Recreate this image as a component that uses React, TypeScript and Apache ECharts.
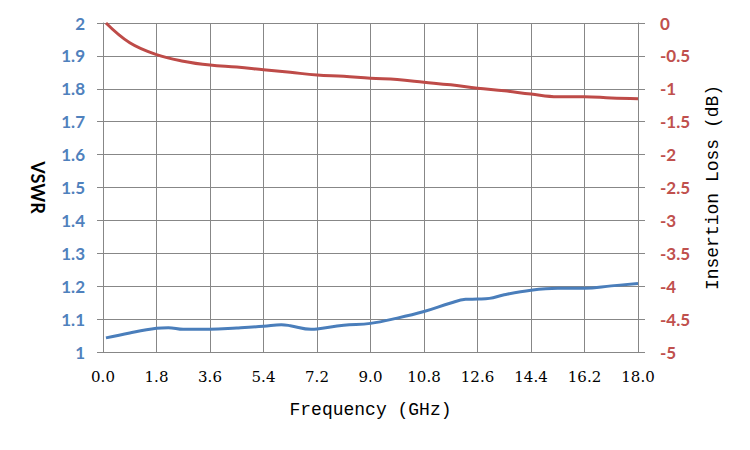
import React, { useEffect, useRef } from "react";
import * as echarts from "echarts";

const freqVswr = [0.1, 0.9, 1.8, 2.2, 2.7, 3.6, 4.5, 5.4, 6.0, 6.3, 7.0, 7.2, 8.1, 9.0, 9.9, 10.8, 11.7, 12.2, 12.6, 13.0, 13.5, 14.4, 15.3, 16.2, 17.1, 18.0];
const vswr = [1.043, 1.058, 1.072, 1.074, 1.069, 1.069, 1.073, 1.078, 1.083, 1.08, 1.069, 1.07, 1.081, 1.087, 1.103, 1.123, 1.149, 1.16, 1.161, 1.163, 1.174, 1.188, 1.194, 1.194, 1.201, 1.208];

const freqLoss = [0.1, 0.9, 1.8, 2.7, 3.6, 4.5, 5.4, 6.3, 7.2, 8.1, 9.0, 9.9, 10.8, 11.7, 12.6, 13.5, 14.4, 15.3, 16.2, 17.1, 18.0];
const loss = [0, -0.3, -0.48, -0.58, -0.64, -0.67, -0.71, -0.75, -0.79, -0.81, -0.84, -0.86, -0.9, -0.94, -0.99, -1.03, -1.08, -1.12, -1.12, -1.14, -1.15];

const xTitle = "Frequency (GHz)";
const leftTitle = "VSWR";
const rightTitle = "Insertion Loss (dB)";

const GRAY = "#878787";
const BLUE_TEXT = "#4f81bd";
const BLUE_LINE = "#4a7ebb";
const RED_TEXT = "#c0504d";
const RED_LINE = "#be4b48";
const SERIF = "DejaVu Serif";
const MONO = "Liberation Mono";

export default function App() {
  const ref = useRef<HTMLDivElement>(null);
  useEffect(() => {
    document.body.style.margin = "0";
    const chart = echarts.init(ref.current!, null, { renderer: "svg" });
    chart.setOption({
      animation: false,
      backgroundColor: "#ffffff",
      grid: { left: 103, right: 112, top: 23, bottom: 98, containLabel: false },
      xAxis: {
        type: "value",
        min: 0,
        max: 18,
        interval: 1.8,
        name: xTitle,
        nameLocation: "middle",
        nameGap: 49,
        nameTextStyle: { fontFamily: MONO, fontSize: 18, color: "#000" },
        axisLine: { show: true, lineStyle: { color: GRAY, width: 1 } },
        axisTick: { show: true, inside: false, length: 6, lineStyle: { color: GRAY } },
        axisLabel: {
          margin: 17,
          fontFamily: SERIF,
          fontSize: 15,
          color: "#000",
          formatter: (v: number) => v.toFixed(1),
        },
        splitLine: { show: true, lineStyle: { color: GRAY, width: 1 } },
      },
      yAxis: [
        {
          type: "value",
          position: "left",
          min: 1,
          max: 2,
          interval: 0.1,
          name: leftTitle,
          nameLocation: "middle",
          nameRotate: -90,
          nameGap: 56,
          nameTextStyle: { fontFamily: "Lato", fontWeight: "bold", fontSize: 18, color: "#000" },
          axisLine: { show: true, lineStyle: { color: GRAY, width: 1 } },
          axisTick: { show: true, inside: false, length: 6, lineStyle: { color: GRAY } },
          axisLabel: {
            margin: 18,
            fontFamily: "Lato",
            fontWeight: "bold",
            fontSize: 17,
            color: BLUE_TEXT,
            formatter: (v: number) => String(Math.round(v * 10) / 10),
          },
          splitLine: { show: true, lineStyle: { color: GRAY, width: 1 } },
        },
        {
          type: "value",
          position: "right",
          min: -5,
          max: 0,
          interval: 0.5,
          name: rightTitle,
          nameLocation: "middle",
          nameRotate: 90,
          nameGap: 66,
          nameTextStyle: { fontFamily: MONO, fontSize: 18, color: "#000" },
          axisLine: { show: true, lineStyle: { color: GRAY, width: 1 } },
          axisTick: { show: true, inside: false, length: 7, lineStyle: { color: GRAY } },
          axisLabel: {
            margin: 22,
            fontFamily: "Lato",
            fontWeight: "bold",
            fontSize: 17,
            color: RED_TEXT,
            formatter: (v: number) => String(Math.round(v * 10) / 10),
          },
          splitLine: { show: false },
        },
      ],
      series: [
        {
          type: "line",
          yAxisIndex: 0,
          data: freqVswr.map((f, i) => [f, vswr[i]]),
          smooth: 0.4,
          showSymbol: false,
          lineStyle: { color: BLUE_LINE, width: 3 },
        },
        {
          type: "line",
          yAxisIndex: 1,
          data: freqLoss.map((f, i) => [f, loss[i]]),
          smooth: 0.4,
          showSymbol: false,
          lineStyle: { color: RED_LINE, width: 3 },
        },
      ],
    });
    return () => chart.dispose();
  }, []);
  return <div ref={ref} style={{ width: 750, height: 450 }} />;
}
